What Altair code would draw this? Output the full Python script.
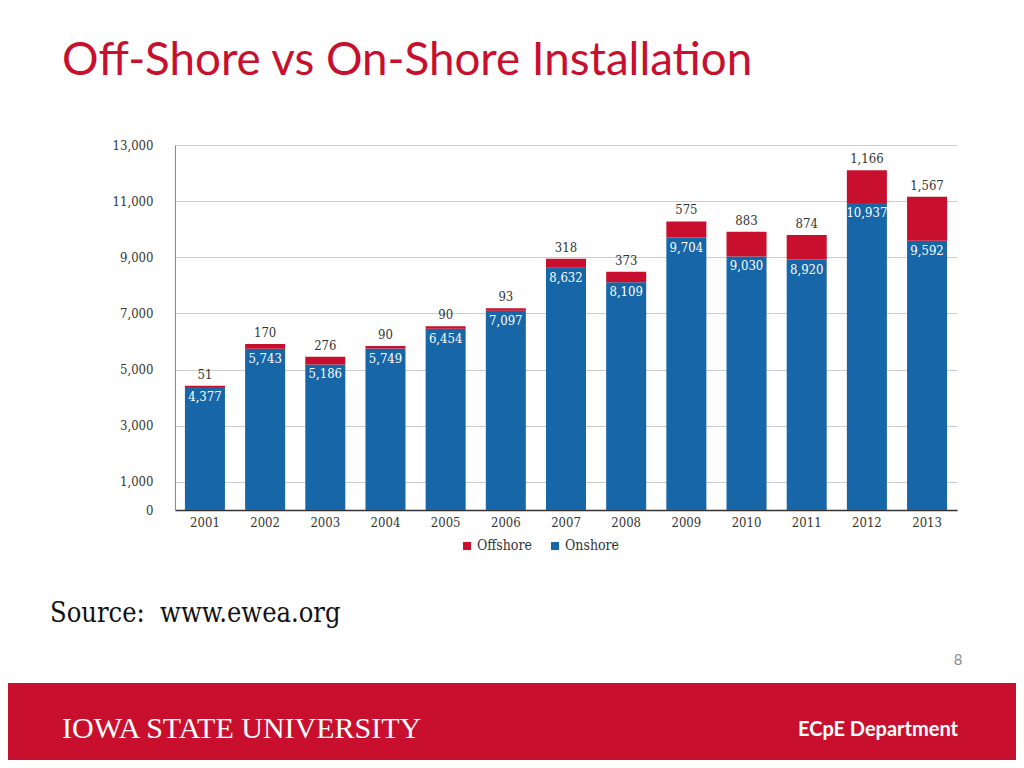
import altair as alt
import pandas as pd

years = ["2001", "2002", "2003", "2004", "2005", "2006", "2007",
         "2008", "2009", "2010", "2011", "2012", "2013"]
onshore = [4377, 5743, 5186, 5749, 6454, 7097, 8632, 8109, 9704, 9030, 8920, 10937, 9592]
offshore = [51, 170, 276, 90, 90, 93, 318, 373, 575, 883, 874, 1166, 1567]
y_ticks = [0, 1000, 3000, 5000, 7000, 9000, 11000, 13000]
series = ["Offshore", "Onshore"]

RED = "#c8102e"
BLUE = "#1767a8"
SERIF = "DejaVu Serif Condensed, DejaVu Serif, serif"

rows = []
for yr, on, off in zip(years, onshore, offshore):
    rows.append({"year": yr, "type": "Onshore", "value": on, "ord": 0})
    rows.append({"year": yr, "type": "Offshore", "value": off, "ord": 1})
long_df = pd.DataFrame(rows)
wide_df = pd.DataFrame({"year": years, "onshore": onshore, "offshore": offshore})
one = pd.DataFrame({"k": [0]})

x_enc = alt.X(
    "year:N", sort=years,
    scale=alt.Scale(paddingInner=0.335, paddingOuter=0.165),
    axis=alt.Axis(title=None, labelAngle=0, ticks=False, labelPadding=6,
                  domainColor="#333333", domainWidth=1.5,
                  labelFont=SERIF, labelFontSize=13, labelColor="#333333"),
)
y_scale = alt.Scale(domain=[0, 13000], nice=False)

bars = alt.Chart(long_df).mark_bar().encode(
    x=x_enc,
    y=alt.Y("value:Q", stack="zero", scale=y_scale,
            axis=alt.Axis(title=None, values=y_ticks, format=",d", ticks=False,
                          labelPadding=22, domainColor="#888888", domainWidth=1,
                          gridColor="#cccccc", gridWidth=1.2,
                          labelFont=SERIF, labelFontSize=13, labelColor="#333333")),
    color=alt.Color("type:N", scale=alt.Scale(domain=series, range=[RED, BLUE]),
                    legend=alt.Legend(title=None, orient="none", direction="horizontal",
                                      legendX=285, legendY=394, symbolType="square",
                                      symbolSize=64, symbolStrokeWidth=0,
                                      labelFont=SERIF, labelFontSize=14,
                                      labelColor="#333333", labelOffset=3,
                                      columnPadding=16, padding=0)),
    order=alt.Order("ord:Q"),
)

on_labels = alt.Chart(wide_df).mark_text(
    baseline="top", dy=4, color="white", font=SERIF, fontSize=13
).encode(
    x=alt.X("year:N", sort=years),
    y=alt.Y("onshore:Q"),
    text=alt.Text("onshore:Q", format=",d"),
)

off_labels = alt.Chart(wide_df).transform_calculate(
    total="datum.onshore + datum.offshore"
).mark_text(
    baseline="bottom", dy=-4, color="#333333", font=SERIF, fontSize=13
).encode(
    x=alt.X("year:N", sort=years),
    y=alt.Y("total:Q"),
    text=alt.Text("offshore:Q", format=",d"),
)

# slide decorations (coordinates relative to plot origin)
footer = alt.Chart(one).mark_rect(color=RED).encode(
    x=alt.value(-167), x2=alt.value(841), y=alt.value(538), y2=alt.value(615)
)
title = alt.Chart(one).mark_text(
    text="Off-Shore vs On-Shore Installation", align="left", baseline="alphabetic",
    font="Lato", fontSize=45.7, color=RED
).encode(x=alt.value(-113), y=alt.value(-70))
source = alt.Chart(one).mark_text(
    text="Source:\u00a0 www.ewea.org", align="left", baseline="alphabetic",
    font=SERIF, fontSize=27, color="#111111"
).encode(x=alt.value(-125), y=alt.value(477))
page = alt.Chart(one).mark_text(
    text="8", align="center", baseline="middle", font="Lato", fontSize=15, color="#8c8c8c"
).encode(x=alt.value(783), y=alt.value(515))
isu = alt.Chart(one).mark_text(
    text="IOWA STATE UNIVERSITY", align="left", baseline="alphabetic",
    font="Liberation Serif", fontSize=30, color="white"
).encode(x=alt.value(-113), y=alt.value(593))
dept = alt.Chart(one).mark_text(
    text="ECpE Department", align="right", baseline="alphabetic",
    font="Lato", fontWeight="bold", fontSize=20, color="white"
).encode(x=alt.value(783), y=alt.value(591))

chart = alt.layer(
    footer, bars, on_labels, off_labels, title, source, page, isu, dept
).properties(
    width=782, height=365,
    padding={"left": 167, "top": 137, "right": 59, "bottom": 250},
    autosize=alt.AutoSizeParams(type="none"),
).configure_view(stroke=None)

chart.save("out.html", embed_options={"renderer": "svg", "actions": False})
